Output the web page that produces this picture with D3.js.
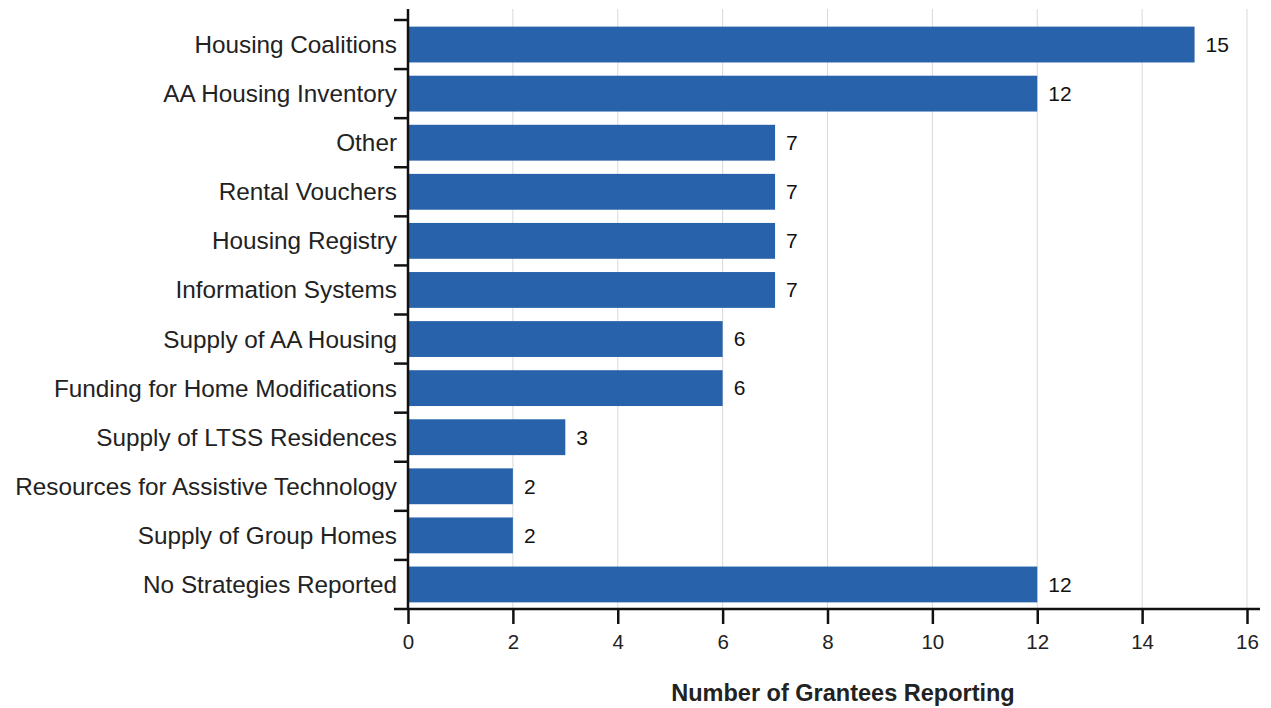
<!DOCTYPE html>
<html><head><meta charset="utf-8">
<script src="https://cdn.jsdelivr.net/npm/d3@7"></script>
<style>body{margin:0;background:#fff;} text{font-family:"Liberation Sans",Arial,sans-serif;}</style>
</head><body>
<svg id="c" width="1271" height="708"></svg>
<script>
const categories = ["Housing Coalitions","AA Housing Inventory","Other","Rental Vouchers","Housing Registry","Information Systems","Supply of AA Housing","Funding for Home Modifications","Supply of LTSS Residences","Resources for Assistive Technology","Supply of Group Homes","No Strategies Reported"];
const values = [15,12,7,7,7,7,6,6,3,2,2,12];
const xTicks = [0,2,4,6,8,10,12,14,16];
const xTitle = "Number of Grantees Reporting";

const svg = d3.select("#c");
const mLeft = 408, mRight = 1247, mTop = 20, mBottom = 609;
const x = d3.scaleLinear().domain([0,16]).range([mLeft,mRight]);
const y = d3.scaleBand().domain(categories).range([mTop,mBottom]).paddingInner(0.27).paddingOuter(0.135);

// gridlines
svg.append("g").selectAll("line").data(xTicks.filter(d=>d>0)).join("line")
  .attr("x1",d=>x(d)).attr("x2",d=>x(d)).attr("y1",9).attr("y2",mBottom)
  .attr("stroke","#d9d9d9").attr("stroke-width",1);

// bars
const data = categories.map((c,i)=>({c,v:values[i]}));
svg.append("g").selectAll("rect").data(data).join("rect")
  .attr("x",x(0)).attr("y",d=>y(d.c)).attr("width",d=>x(d.v)-x(0)).attr("height",y.bandwidth())
  .attr("fill","#2762ab");

// value labels
svg.append("g").selectAll("text").data(data).join("text")
  .attr("x",d=>x(d.v)+11).attr("y",d=>y(d.c)+y.bandwidth()/2).attr("dy","0.35em")
  .attr("font-size",21).attr("fill","#111").text(d=>d.v);

// x axis
const xa = svg.append("g").attr("transform",`translate(0,${mBottom})`)
  .call(d3.axisBottom(x).tickValues(xTicks).tickSize(15).tickPadding(10));
xa.select(".domain").remove();
xa.selectAll(".tick line").attr("stroke","#111").attr("stroke-width",2.5);
xa.selectAll(".tick text").attr("font-size",20.5).attr("fill","#222").style("font-family","Liberation Sans, Arial, sans-serif");
svg.append("line").attr("x1",mLeft-14).attr("x2",1260).attr("y1",mBottom).attr("y2",mBottom).attr("stroke","#111").attr("stroke-width",2.5);

// y axis
svg.append("line").attr("x1",mLeft).attr("x2",mLeft).attr("y1",9).attr("y2",mBottom).attr("stroke","#111").attr("stroke-width",2.5);
const step = y.step();
const bounds = d3.range(categories.length).map(i=>y(categories[i]) - step*y.paddingInner()/2);
svg.append("g").selectAll("line").data(bounds).join("line")
  .attr("x1",mLeft-14).attr("x2",mLeft).attr("y1",d=>d).attr("y2",d=>d)
  .attr("stroke","#111").attr("stroke-width",2.5);
svg.append("g").selectAll("text").data(categories).join("text")
  .attr("x",mLeft-11).attr("y",d=>y(d)+y.bandwidth()/2).attr("dy","0.35em")
  .attr("text-anchor","end").attr("font-size",24.3).attr("fill","#222").text(d=>d);

svg.append("text").attr("x",843).attr("y",701).attr("text-anchor","middle")
  .attr("font-size",23.5).attr("font-weight","bold").attr("fill","#222").text(xTitle);
</script>
</body></html>
